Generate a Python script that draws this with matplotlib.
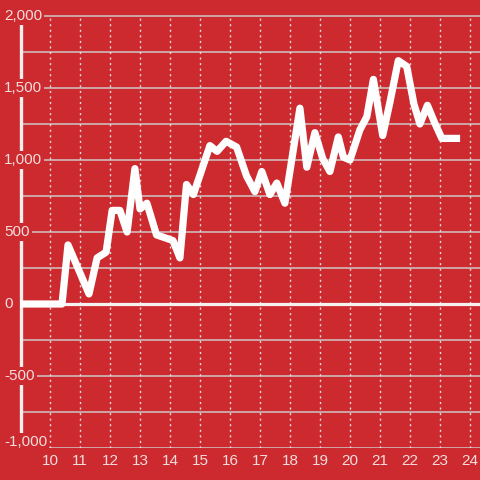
import matplotlib
matplotlib.use("Agg")
import matplotlib.pyplot as plt
import matplotlib.transforms as mtransforms

# ---- data ----
x_vals = [9.0, 10.4, 10.6, 11.3, 11.57, 11.87, 12.07, 12.33, 12.57, 12.83, 13.0, 13.23,
          13.55, 13.83, 14.1, 14.33, 14.55, 14.78, 15.33, 15.57, 15.87, 16.22, 16.55,
          16.83, 17.06, 17.33, 17.56, 17.83, 18.33, 18.56, 18.83, 19.09, 19.33, 19.61,
          19.78, 20.0, 20.33, 20.56, 20.78, 21.09, 21.33, 21.61, 21.89, 22.13, 22.33,
          22.58, 22.83, 23.06, 23.67]
y_vals = [0, 0, 410, 70, 320, 360, 650, 650, 500, 940, 660, 700,
          480, 460, 440, 320, 830, 760, 1100, 1060, 1130, 1090, 890,
          780, 920, 760, 840, 700, 1360, 950, 1190, 1010, 920, 1160,
          1020, 1000, 1210, 1300, 1560, 1170, 1400, 1690, 1650, 1390, 1250,
          1380, 1255, 1150, 1150]
x_ticks = list(range(10, 25))
y_ticks = [2000, 1500, 1000, 500, 0, -500, -1000]
y_tick_labels = ["2,000", "1,500", "1,000", "500", "0", "-500", "-1,000"]
y_grid = [-750, -250, 250, 750, 1250, 1750]

BG = "#cc2a2f"
TXT = "#f3dddd"
GRID = "#cfc6c6"

plt.rcParams['font.family'] = ['Liberation Sans', 'DejaVu Sans']

fig = plt.figure(figsize=(4.8, 4.8), dpi=100, facecolor=BG)
ax = fig.add_axes([20 / 480, 32 / 480, 460 / 480, 448 / 480])
ax.set_facecolor(BG)
for s in ax.spines.values():
    s.set_visible(False)

ax.set_xlim(9, 24 + 1 / 3)
ax.set_ylim(-1000, 2000 + 16 / 0.144)

# horizontal grid lines
for v in y_ticks + y_grid:
    if v == 0:
        continue
    ax.axhline(v, color=GRID, lw=1.1, zorder=1)
# vertical dotted grid lines
ax.vlines(x_ticks, -1000, 2000, colors="#e8dcdc", lw=1.0, linestyles=(0, (1.5, 2.5)), zorder=1)
# zero line
ax.axhline(0, color="#f7f2f2", lw=2.3, zorder=2)
# left axis line
ax.vlines(9.03, -1000, 2000, colors="#f4efef", lw=2.4, zorder=2, clip_on=False)

# data line
ax.plot(x_vals, y_vals, color="#fefefe", lw=5.2, solid_joinstyle="round",
        solid_capstyle="butt", zorder=3)

# y labels inside plot with background boxes
trans = mtransforms.blended_transform_factory(fig.transFigure, ax.transData)
for v, lab in zip(y_ticks, y_tick_labels):
    t = trans
    if v == y_ticks[-1]:
        t = mtransforms.offset_copy(trans, fig=fig, y=6, units="dots")
    ax.text(4 / 480, v, lab, transform=t, ha="left", va="center", fontsize=11,
            color=TXT, zorder=5,
            bbox=dict(boxstyle="square,pad=0.15", fc=BG, ec="none"))

ax.set_yticks([])
ax.set_xticks(x_ticks)
ax.set_xticklabels([str(t) for t in x_ticks], fontsize=11, color=TXT)
ax.tick_params(axis="x", length=0, pad=4)

fig.savefig("out.png", dpi=100, facecolor=BG)
